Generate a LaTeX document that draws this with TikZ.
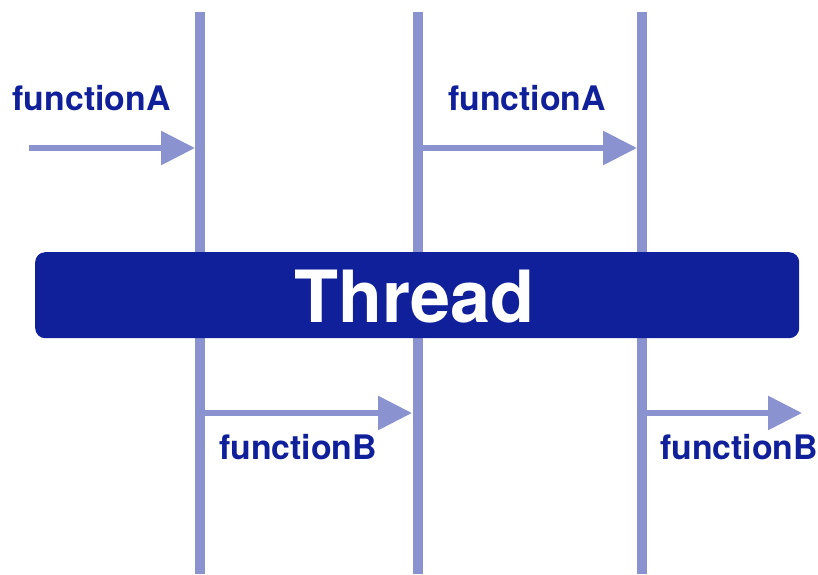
\documentclass[tikz,border=0pt]{standalone}
\usepackage{fontspec}
\setmainfont{TeX Gyre Heros}
\usetikzlibrary{arrows.meta}
\definecolor{lane}{HTML}{8A93D0}
\definecolor{deepblue}{HTML}{10209B}
\tikzset{
  lane/.style={draw=lane, line width=10pt},
  call/.style={draw=lane, line width=6pt, -{Triangle[length=34pt,width=33pt]}},
  fname/.style={text=deepblue, font=\fontsize{33.8}{40}\selectfont\bfseries, inner sep=0pt, anchor=base west},
  threadbox/.style={fill=deepblue, rounded corners=10pt, inner sep=0pt, anchor=north west, minimum width=764pt, minimum height=86pt},
  threadtext/.style={text=white, font=\fontsize{72}{80}\selectfont\bfseries, inner sep=0pt, anchor=base west}
}
\begin{document}
\begin{tikzpicture}[x=1pt, y=-1pt]
\useasboundingbox (0,0) rectangle (818,574);
% vertical lanes
\coordinate (l1t) at (200,12);   \coordinate (l1b) at (200,574);
\coordinate (l2t) at (417.5,12); \coordinate (l2b) at (417.5,574);
\coordinate (l3t) at (641.7,12); \coordinate (l3b) at (641.7,574);
\draw[lane] (l1t) -- (l1b);
\draw[lane] (l2t) -- (l2b);
\draw[lane] (l3t) -- (l3b);
% thread bar
\node[threadbox] (thread) at (35,252) {};
\node[threadtext] (tlabel) at (294,322) {Thread};
% calls above the bar
\coordinate (a1s) at (29,148);  \coordinate (a1e) at (195,148);
\coordinate (a2s) at (422,148); \coordinate (a2e) at (637,148);
\draw[call] (a1s) -- (a1e);
\draw[call] (a2s) -- (a2e);
\node[fname] (fa1) at (12.5,110) {functionA};
\node[fname] (fa2) at (448,110) {functionA};
% calls below the bar
\coordinate (b1s) at (205,413); \coordinate (b1e) at (412,413);
\coordinate (b2s) at (646,413); \coordinate (b2e) at (802,413);
\draw[call] (b1s) -- (b1e);
\draw[call] (b2s) -- (b2e);
\node[fname] (fb1) at (219,459) {functionB};
\node[fname] (fb2) at (660,459) {functionB};
\end{tikzpicture}
\end{document}
